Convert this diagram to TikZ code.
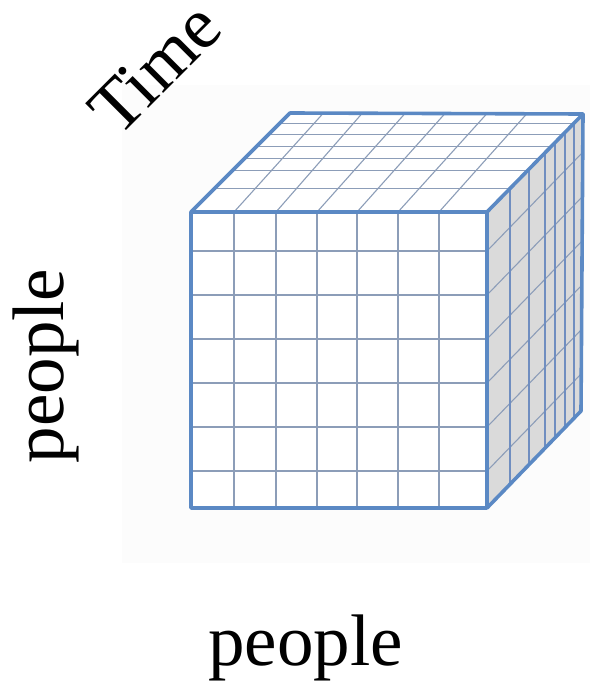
\documentclass[tikz,border=0pt]{standalone}
\usepackage{fontspec}
\setmainfont{Liberation Serif}
\definecolor{edgeblue}{RGB}{91,137,196}
\definecolor{gridblue}{RGB}{140,157,184}
\definecolor{sideblue}{RGB}{112,142,192}
\definecolor{sidegray}{RGB}{218,218,218}
\definecolor{bgfaint}{RGB}{252,252,252}
\tikzset{
  border/.style={draw=edgeblue, line width=3.6pt, line join=round},
  gridline/.style={draw=gridblue, line width=1.1pt},
  sideline/.style={draw=sideblue, line width=1.3pt},
  lbl/.style={font=\fontsize{73}{80}\selectfont, inner sep=0pt},
}
\begin{document}
\begin{tikzpicture}[x=1pt,y=-1pt]
\useasboundingbox (0,0) rectangle (590,682);
\fill[bgfaint] (122,85) rectangle (590,563);
\coordinate (A) at (191,212);
\coordinate (B) at (487,212);
\coordinate (C) at (487,508);
\coordinate (D) at (191,508);
\coordinate (E) at (290,113);
\coordinate (F) at (583,114);
\coordinate (G) at (581,411);
\fill[white] (A) -- (B) -- (C) -- (D) -- cycle;
\fill[white] (A) -- (E) -- (F) -- (B) -- cycle;
\fill[sidegray] (B) -- (F) -- (G) -- (C) -- cycle;
% front grid
\foreach \x in {234,276,317,357,398,439}
  \draw[gridline] (\x,212) -- (\x,508);
\foreach \y in {251,295,339,383,427,471}
  \draw[gridline] (191,\y) -- (487,\y);
% top grid
\foreach \y in {123.3,134.3,146.7,158.3,170.7,188.3}
  \draw[gridline] ({191+212-\y},\y) -- ({487+(212-\y)*96/98},\y);
\foreach \a/\b in {234/323,276/362,317/405,357/445,398/487,439/527}
  \draw[gridline] (\a,212) -- (\b,113.5);
% right grid
\foreach \y in {251,295,339,383,427,471}
  \draw[gridline] (487,\y) -- (582,{\y-98});
\foreach \x in {510,529,545,555,565,574}
  \draw[sideline] (\x,{212-(\x-487)*98/96}) -- (\x,{508-(\x-487)*97/94});
% borders
\draw[border] (A) -- (B) -- (C) -- (D) -- cycle;
\draw[border] (A) -- (E) -- (F) -- (B);
\draw[border] (F) -- (G) -- (C);
% labels
\node[lbl, rotate=45, anchor=base west] (time) at (118,139) {Time};
\node[lbl, rotate=90, anchor=base] (pleft) at (63,366) {people};
\node[lbl, anchor=base] (pbottom) at (305.5,665) {people};
\end{tikzpicture}
\end{document}
